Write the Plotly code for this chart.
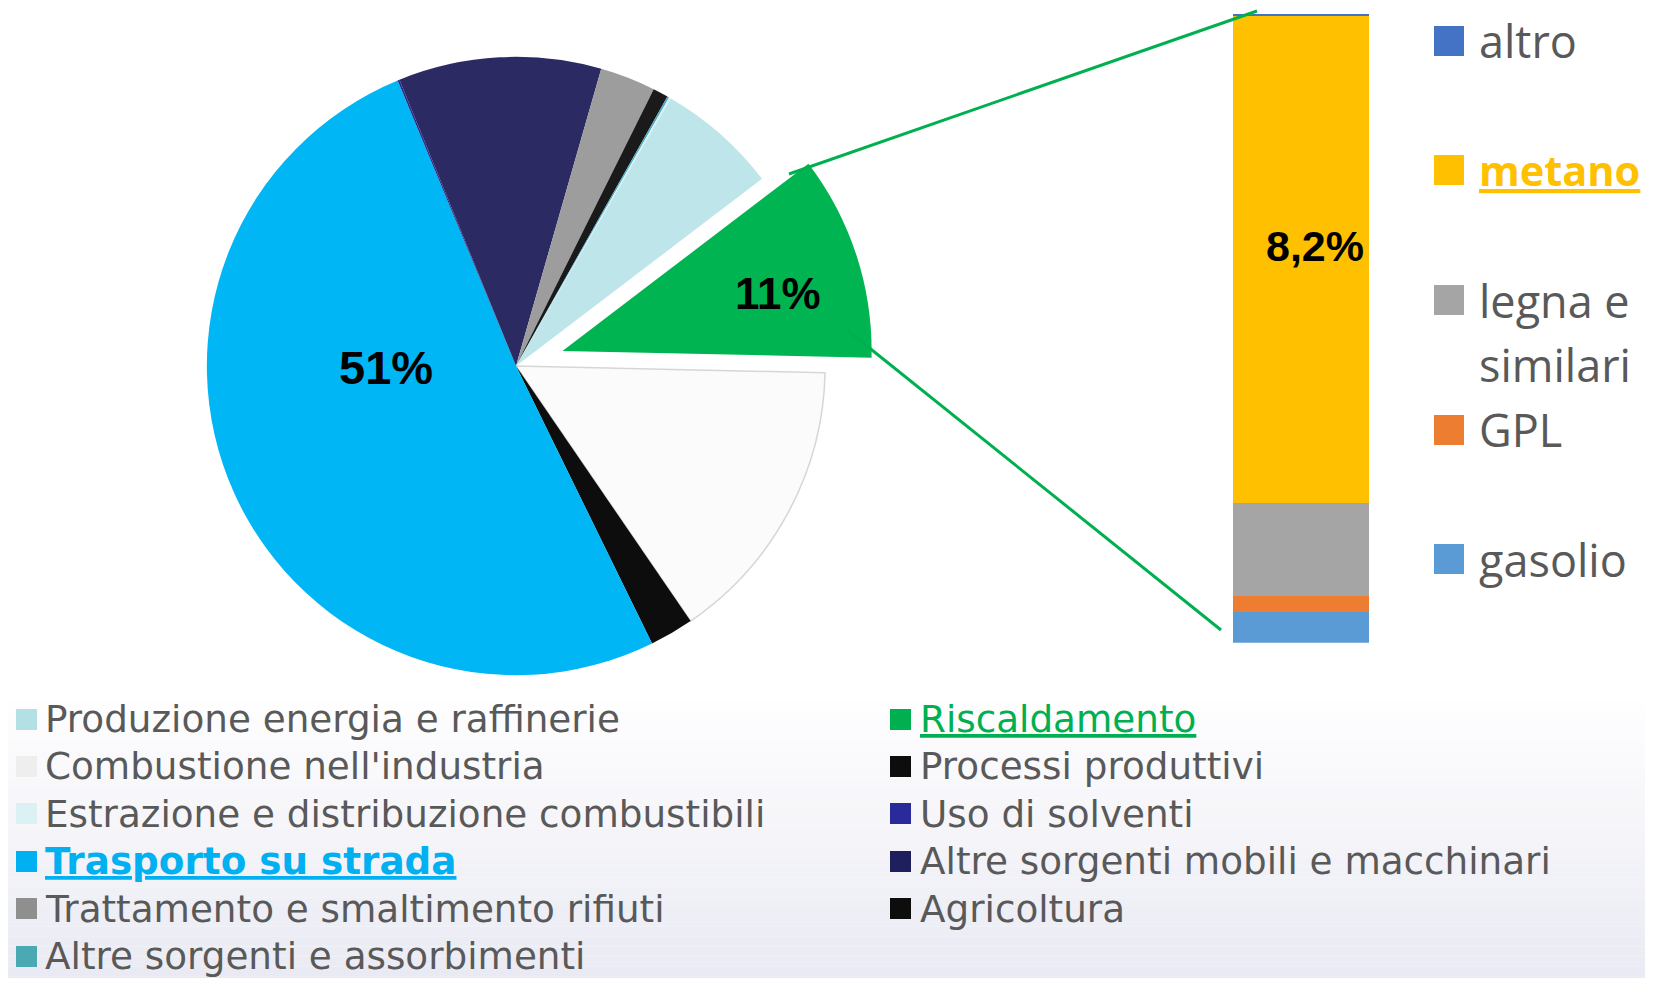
import plotly.graph_objects as go

W, H = 1653, 986
PAD = 8  # default page margin around the plot div
FW, FH = W - 2 * PAD, H - 2 * PAD

# NOx emissions by sector (%), listed clockwise starting from 3 o'clock
sectors = ["Combustione nell'industria", "Processi produttivi", "Trasporto su strada",
           "Uso di solventi", "Altre sorgenti mobili e macchinari",
           "Trattamento e smaltimento rifiuti", "Agricoltura",
           "Altre sorgenti e assorbimenti", "Estrazione e distribuzione combustibili",
           "Produzione energia e raffinerie", "Riscaldamento"]
shares = [15.1, 2.3, 51.0, 0.1, 10.6, 2.9, 0.8, 0.1, 0.1, 6.3, 10.7]
sector_colors = ["#fbfbfb", "#0d0d0d", "#00b6f4", "#2b2b8f", "#2b2a62",
                 "#9d9d9d", "#1a1a1a", "#4bacc6", "#d8f0f3", "#bde5ea", "#00b451"]
pulls = [0, 0, 0, 0, 0, 0, 0, 0, 0, 0, 0.158]

# heating detail by fuel (%), stacked bottom to top
fuels = ["gasolio", "GPL", "legna e<br>similari", "metano", "altro"]
fuel_shares = [0.52, 0.26, 1.56, 8.2, 0.02]
fuel_colors = ["#5b9bd5", "#ed7d31", "#a5a5a5", "#ffc000", "#4472c4"]

# sector legend, two columns
legend_left = ["Produzione energia e raffinerie", "Combustione nell'industria",
               "Estrazione e distribuzione combustibili", "Trasporto su strada",
               "Trattamento e smaltimento rifiuti", "Altre sorgenti e assorbimenti"]
legend_left_colors = ["#b3e0e4", "#eeeeee", "#dcf1f3", "#00b0f0", "#8f8f8f", "#4aa9b2"]
legend_right = ["Riscaldamento", "Processi produttivi", "Uso di solventi",
                "Altre sorgenti mobili e macchinari", "Agricoltura"]
legend_right_colors = ["#00b050", "#0d0d0d", "#2a2a9a", "#1f1f5e", "#0d0d0d"]
# label -> (colour, bold)
highlight = {"Trasporto su strada": ("#00b0f0", True), "Riscaldamento": ("#00b050", False),
             "metano": ("#ffc000", True)}

TEXT_GREY = "#595959"


def px(x, y):
    # page pixel -> paper coordinates
    return (x - PAD) / FW, 1 - (y - PAD) / FH


fig = go.Figure()

line_colors = ["#d6d6d6"] + sector_colors[1:]
line_widths = [1.5] + [0] * (len(sectors) - 1)
dx0, dy0 = px(158, 724)
dx1, dy1 = px(874, 8)
fig.add_trace(go.Pie(
    labels=sectors, values=shares, sort=False, direction="clockwise", rotation=91.25,
    pull=pulls, textinfo="none", hoverinfo="label+percent", showlegend=False,
    marker=dict(colors=sector_colors, line=dict(color=line_colors, width=line_widths)),
    domain=dict(x=[dx0, dx1], y=[dy0, dy1]),
))

for f, v, c in zip(fuels, fuel_shares, fuel_colors):
    fig.add_trace(go.Bar(x=["Riscaldamento"], y=[v], name=f.replace("<br>", " "),
                         marker=dict(color=c, line=dict(width=0)), showlegend=False))

annotations = []


def pct_label(text, x, y, size):
    ax, ay = px(x, y)
    annotations.append(dict(x=ax, y=ay, xref="paper", yref="paper", text="<b>%s</b>" % text,
                            showarrow=False, xanchor="center", yanchor="middle",
                            font=dict(family="Liberation Sans", size=size, color="black")))


pct_label("%d%%" % round(shares[2]), 386, 367, 47)
pct_label("%d%%" % round(shares[-1]), 778, 293, 44)
pct_label(("%.1f%%" % fuel_shares[3]).replace(".", ","), 1315, 246, 43)


def legend_item(label, color, sx, tx, y, sq, font, size, bold_size=None):
    ax, ay = px(sx, y)
    annotations.append(dict(x=ax, y=ay, xref="paper", yref="paper", text=" ", showarrow=False,
                            width=sq, height=sq, bgcolor=color, borderpad=0, borderwidth=0,
                            xanchor="center", yanchor="middle"))
    for k, ln in enumerate(label.split("<br>")):
        txt, col, fs = ln, TEXT_GREY, size
        if label in highlight:
            col, bold = highlight[label]
            txt = "<u>%s</u>" % ln
            if bold:
                txt = "<b>%s</b>" % txt
                fs = bold_size or size
        bx, by = px(tx, y + k * 64)
        annotations.append(dict(x=bx, y=by, xref="paper", yref="paper", text=txt,
                                showarrow=False, xanchor="left", yanchor="middle",
                                font=dict(family=font, size=fs, color=col)))


for i, (lab, col) in enumerate(zip(legend_left, legend_left_colors)):
    legend_item(lab, col, 26, 43, 719 + i * 47.4, 21, "DejaVu Sans", 37.3)
for i, (lab, col) in enumerate(zip(legend_right, legend_right_colors)):
    legend_item(lab, col, 900, 918, 719 + i * 47.4, 21, "DejaVu Sans", 37.3)

for i, (lab, col) in enumerate(zip(fuels[::-1], fuel_colors[::-1])):
    legend_item(lab, col, 1449, 1477, 41 + i * 129.5, 30, "Open Sans", 45, bold_size=41.5)

# connector lines from the pulled slice to the bar
shapes = []
for (x0, y0), (x1, y1) in [((789, 174), (1257, 11)), ((847, 330), (1221, 630))]:
    a0, b0 = px(x0, y0)
    a1, b1 = px(x1, y1)
    shapes.append(dict(type="line", xref="paper", yref="paper", x0=a0, y0=b0, x1=a1, y1=b1,
                       line=dict(color="#00b050", width=3)))

# soft background fade at the bottom
n = 30
top, bottom = 690, H
for k in range(n):
    t = (k + 0.5) / n
    r = round(255 - t * 22)
    g = round(255 - t * 22)
    b = round(255 - t * 12)
    _, ya = px(0, top + (bottom - top) * k / n)
    _, yb = px(0, top + (bottom - top) * (k + 1) / n)
    shapes.append(dict(type="rect", xref="paper", yref="paper", x0=0, x1=1, y0=yb, y1=ya,
                       fillcolor="rgb(%d,%d,%d)" % (r, g, b), line=dict(width=0), layer="below"))

bx0, by0 = px(1233, 642.7)
bx1, by1 = px(1369, 14)
fig.update_layout(
    width=FW, height=FH,
    margin=dict(l=0, r=0, t=0, b=0),
    paper_bgcolor="white", plot_bgcolor="rgba(0,0,0,0)",
    barmode="stack", bargap=0,
    xaxis=dict(domain=[bx0, bx1], visible=False, fixedrange=True),
    yaxis=dict(domain=[by0, by1], range=[0, sum(fuel_shares)],
               visible=False, fixedrange=True),
    annotations=annotations,
    shapes=shapes,
)

fig.write_html("out.html")
